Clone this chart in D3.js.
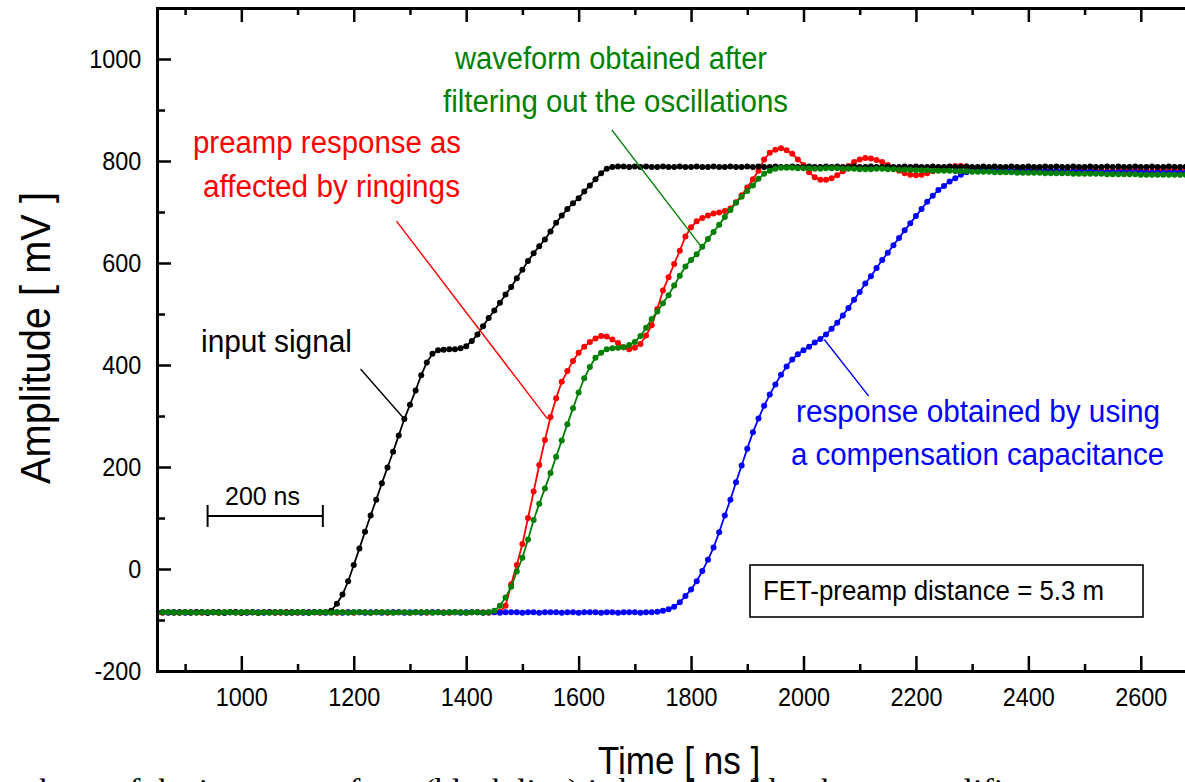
<!DOCTYPE html>
<html lang="en">
<head>
  <meta charset="UTF-8">
  <title>FET-preamp waveforms</title>
  <style>
    body { margin: 0; background: #fff; }
    svg { display: block; }
  </style>
</head>
<body>
  <svg id="svg" width="1185" height="782"></svg>
  <script src="https://d3js.org/d3.v7.min.js"></script>
  <script>
    // sampling grid (ns), one point every 10 ns
    const timeNs = [
      850, 860, 870, 880, 890, 900, 910, 920, 930, 940,
      950, 960, 970, 980, 990, 1000, 1010, 1020, 1030, 1040,
      1050, 1060, 1070, 1080, 1090, 1100, 1110, 1120, 1130, 1140,
      1150, 1160, 1170, 1180, 1190, 1200, 1210, 1220, 1230, 1240,
      1250, 1260, 1270, 1280, 1290, 1300, 1310, 1320, 1330, 1340,
      1350, 1360, 1370, 1380, 1390, 1400, 1410, 1420, 1430, 1440,
      1450, 1460, 1470, 1480, 1490, 1500, 1510, 1520, 1530, 1540,
      1550, 1560, 1570, 1580, 1590, 1600, 1610, 1620, 1630, 1640,
      1650, 1660, 1670, 1680, 1690, 1700, 1710, 1720, 1730, 1740,
      1750, 1760, 1770, 1780, 1790, 1800, 1810, 1820, 1830, 1840,
      1850, 1860, 1870, 1880, 1890, 1900, 1910, 1920, 1930, 1940,
      1950, 1960, 1970, 1980, 1990, 2000, 2010, 2020, 2030, 2040,
      2050, 2060, 2070, 2080, 2090, 2100, 2110, 2120, 2130, 2140,
      2150, 2160, 2170, 2180, 2190, 2200, 2210, 2220, 2230, 2240,
      2250, 2260, 2270, 2280, 2290, 2300, 2310, 2320, 2330, 2340,
      2350, 2360, 2370, 2380, 2390, 2400, 2410, 2420, 2430, 2440,
      2450, 2460, 2470, 2480, 2490, 2500, 2510, 2520, 2530, 2540,
      2550, 2560, 2570, 2580, 2590, 2600, 2610, 2620, 2630, 2640,
      2650, 2660, 2670, 2680
    ]

    // input signal (black), mV
    const inputSignal = [
      -86, -85, -85, -86, -85, -85, -86, -85, -85, -86,
      -85, -85, -86, -85, -85, -86, -85, -85, -86, -85,
      -85, -86, -85, -85, -86, -85, -85, -86, -85, -85,
      -85, -82, -68, -50, -24, 8, 40, 73, 105, 136,
      168, 199, 230, 262, 294, 322, 350, 380, 405, 422,
      429, 430, 431, 431, 433, 437, 447, 460, 476, 492,
      507, 522, 538, 553, 570, 587, 604, 619, 633, 646,
      662, 679, 693, 706, 717, 727, 740, 752, 764, 776,
      785, 788, 789, 789, 788, 789, 788, 789, 788, 788,
      789, 788, 788, 789, 788, 788, 789, 788, 788, 789,
      788, 788, 789, 788, 788, 789, 788, 789, 788, 788,
      789, 788, 788, 789, 788, 788, 789, 788, 788, 789,
      788, 789, 788, 788, 789, 788, 788, 789, 788, 788,
      789, 788, 788, 789, 788, 789, 788, 788, 789, 788,
      788, 789, 788, 788, 789, 788, 788, 789, 788, 789,
      788, 788, 789, 788, 788, 789, 788, 788, 789, 788,
      789, 788, 788, 789, 788, 788, 789, 788, 788, 789,
      788, 789, 788, 788, 789, 788, 788, 789, 788, 788,
      789, 788, 788, 789
    ]

    // preamp response with ringing (red), mV
    const preampResponse = [
      -85, -86, -85, -85, -86, -85, -85, -85, -86, -85,
      -85, -86, -85, -85, -85, -86, -85, -85, -86, -85,
      -85, -85, -86, -85, -85, -86, -85, -85, -85, -86,
      -85, -85, -86, -85, -85, -86, -85, -85, -86, -85,
      -85, -86, -85, -85, -85, -86, -85, -85, -86, -85,
      -85, -85, -86, -85, -85, -86, -85, -85, -85, -86,
      -85, -84, -72, -30, 8, 49, 100, 152, 204, 253,
      298, 335, 367, 388, 408, 424, 436, 445, 452, 457,
      456, 450, 443, 435, 431, 434, 441, 458, 478, 510,
      546, 572, 598, 624, 652, 670, 682, 688, 693, 697,
      699, 702, 707, 719, 733, 748, 764, 781, 803, 816,
      822, 825, 821, 814, 803, 792, 778, 768, 763, 763,
      766, 772, 780, 790, 798, 803, 806, 805, 802, 798,
      792, 787, 781, 776, 773, 772, 773, 776, 780, 783,
      786, 788, 790, 790, 789, 787, 785, 783, 781, 780,
      779, 779, 780, 781, 782, 783, 783, 782, 781, 780,
      779, 779, 780, 781, 782, 782, 782, 781, 780, 780,
      780, 781, 782, 782, 782, 781, 781, 780, 781, 782,
      782, 782, 781, 782
    ]

    // waveform after filtering out the oscillations (green), mV
    const filteredWaveform = [
      -86, -85, -85, -85, -86, -85, -85, -86, -85, -85,
      -85, -86, -85, -85, -86, -85, -85, -85, -86, -85,
      -86, -85, -85, -86, -85, -85, -85, -86, -85, -85,
      -85, -86, -85, -85, -86, -85, -85, -85, -86, -85,
      -85, -85, -86, -85, -85, -86, -85, -85, -85, -86,
      -85, -86, -85, -85, -85, -86, -85, -85, -86, -85,
      -82, -72, -56, -35, -5, 22, 58, 96, 128, 158,
      188, 220, 252, 284, 315, 346, 374, 396, 414, 424,
      431, 433, 434, 435, 439, 445, 457, 473, 490, 505,
      521, 537, 556, 575, 593, 606, 617, 632, 647, 661,
      675, 690, 704, 718, 730, 741, 752, 765, 775, 781,
      785, 787, 787, 787, 786, 786, 786, 785, 785, 786,
      786, 786, 785, 785, 785, 784, 784, 784, 785, 785,
      784, 784, 783, 783, 783, 782, 782, 782, 781, 781,
      781, 781, 780, 780, 780, 779, 779, 779, 779, 778,
      778, 778, 778, 777, 777, 777, 777, 777, 776, 776,
      776, 776, 776, 775, 775, 775, 775, 775, 775, 774,
      774, 774, 774, 774, 774, 773, 773, 773, 773, 773,
      773, 773, 773, 773
    ]

    // response with a compensation capacitance (blue), mV
    const compensatedResponse = [
      -85, -85, -86, -85, -85, -86, -85, -85, -85, -86,
      -85, -85, -86, -85, -85, -85, -86, -85, -85, -86,
      -85, -85, -85, -86, -85, -85, -86, -85, -85, -85,
      -86, -85, -85, -86, -85, -85, -85, -86, -85, -85,
      -86, -85, -85, -85, -86, -85, -85, -86, -85, -85,
      -85, -86, -85, -85, -86, -85, -85, -85, -86, -85,
      -85, -86, -85, -85, -85, -86, -85, -85, -86, -85,
      -85, -85, -86, -85, -85, -86, -85, -85, -85, -86,
      -85, -85, -86, -85, -85, -85, -86, -85, -85, -84,
      -82, -79, -74, -65, -53, -40, -24, -4, 18, 42,
      72, 105, 136, 170, 203, 236, 268, 295, 320, 342,
      362, 381, 397, 411, 421, 429, 436, 444, 451, 460,
      471, 483, 497, 512, 528, 543, 560, 574, 590, 606,
      620, 635, 649, 664, 678, 692, 706, 720, 732, 743,
      751, 760, 766, 773, 778, 782, 783, 783, 783, 782,
      782, 782, 781, 781, 781, 781, 780, 780, 780, 780,
      780, 780, 779, 779, 779, 779, 779, 779, 778, 778,
      778, 778, 778, 778, 778, 778, 777, 777, 777, 777,
      777, 777, 777, 777
    ]

    const xMajorTicks = [1000, 1200, 1400, 1600, 1800, 2000, 2200, 2400, 2600]
    const xMinorTicks = [900, 1100, 1300, 1500, 1700, 1900, 2100, 2300, 2500]
    const yMajorTicks = [-200, 0, 200, 400, 600, 800, 1000]
    const yMinorTicks = [-100, 100, 300, 500, 700, 900]

    const font = '"Liberation Sans", Arial, sans-serif'
    const svg = d3.select('#svg')

    svg.append('rect').attr('width', 1185).attr('height', 782).attr('fill', '#fff')

    const xScale = d3.scaleLinear()
      .domain([850, 2700])
      .range([157, 1197])

    const yScale = d3.scaleLinear()
      .domain([-200, 1100])
      .range([671, 8])

    svg.append('clipPath').attr('id', 'plot-clip')
      .append('rect')
      .attr('x', 157).attr('y', 8)
      .attr('width', 1040).attr('height', 663)

    // series, drawn so green ends on top
    const series = [
      { name: 'preamp', values: preampResponse, color: '#ff0000' },
      { name: 'compensated', values: compensatedResponse, color: '#0000ff' },
      { name: 'input', values: inputSignal, color: '#000000' },
      { name: 'filtered', values: filteredWaveform, color: '#008000' }
    ]

    const line = d3.line()
      .x(d => xScale(d[0]))
      .y(d => yScale(d[1]))

    const plot = svg.append('g').attr('clip-path', 'url(#plot-clip)')

    series.forEach(s => {
      const pts = timeNs.map((t, i) => [t, s.values[i]])
      const g = plot.append('g').attr('class', 'series-' + s.name)
      g.append('path')
        .datum(pts)
        .attr('d', line)
        .attr('fill', 'none')
        .attr('stroke', s.color)
        .attr('stroke-width', 1.8)
      g.selectAll('circle')
        .data(pts)
        .enter()
        .append('circle')
        .attr('cx', d => xScale(d[0]))
        .attr('cy', d => yScale(d[1]))
        .attr('r', 3)
        .attr('fill', s.color)
    })

    // axes
    const styleAxis = g => {
      g.select('.domain').attr('stroke-width', 3).attr('stroke-linecap', 'square')
      g.selectAll('.tick line').attr('stroke-width', 2.5)
      g.selectAll('.tick text')
        .attr('fill', '#000')
        .style('font-family', font)
        .style('font-size', '26px')
        .attr('transform', 'scale(0.9,1)')
    }

    svg.append('g')
      .attr('transform', `translate(0,${yScale(-200)})`)
      .call(d3.axisBottom(xScale).tickValues(xMajorTicks).tickSizeInner(-15).tickSizeOuter(0).tickPadding(17).tickFormat(d => String(d)))
      .call(styleAxis)
    svg.append('g')
      .attr('transform', `translate(0,${yScale(-200)})`)
      .call(d3.axisBottom(xScale).tickValues(xMinorTicks).tickSizeInner(-7).tickSizeOuter(0).tickFormat(''))
      .call(styleAxis)

    svg.append('g')
      .attr('transform', `translate(0,${yScale(1100)})`)
      .call(d3.axisTop(xScale).tickValues(xMajorTicks).tickSizeInner(-14).tickSizeOuter(0).tickFormat(''))
      .call(styleAxis)
    svg.append('g')
      .attr('transform', `translate(0,${yScale(1100)})`)
      .call(d3.axisTop(xScale).tickValues(xMinorTicks).tickSizeInner(-7).tickSizeOuter(0).tickFormat(''))
      .call(styleAxis)

    svg.append('g')
      .attr('transform', `translate(${xScale(850)},0)`)
      .call(d3.axisLeft(yScale).tickValues(yMajorTicks).tickSizeInner(-14).tickSizeOuter(0).tickPadding(17.5).tickFormat(d => String(d)))
      .call(styleAxis)
    svg.append('g')
      .attr('transform', `translate(${xScale(850)},0)`)
      .call(d3.axisLeft(yScale).tickValues(yMinorTicks).tickSizeInner(-8).tickSizeOuter(0).tickFormat(''))
      .call(styleAxis)

    // axis titles
    svg.append('text')
      .attr('transform', 'translate(679,774) scale(0.9,1)')
      .attr('text-anchor', 'middle')
      .style('font-family', font)
      .style('font-size', '39px')
      .text('Time [ ns ]')

    svg.append('text')
      .attr('transform', 'translate(50,338) rotate(-90)')
      .attr('text-anchor', 'middle')
      .attr('textLength', 292)
      .attr('lengthAdjust', 'spacingAndGlyphs')
      .style('font-family', font)
      .style('font-size', '42px')
      .text('Amplitude [ mV ]')

    // annotation texts
    const addText = (txt, x, y, width, size, color) => {
      svg.append('text')
        .attr('x', x).attr('y', y)
        .attr('textLength', width)
        .attr('lengthAdjust', 'spacingAndGlyphs')
        .attr('fill', color)
        .style('font-family', font)
        .style('font-size', size + 'px')
        .text(txt)
    }

    addText('waveform obtained after', 455, 69, 312, 31, '#008000')
    addText('filtering out the oscillations', 443, 112, 345, 31, '#008000')
    addText('preamp response as', 193, 153, 268, 31, '#ff0000')
    addText('affected by ringings', 203, 197, 257, 31, '#ff0000')
    addText('input signal', 201, 352, 151, 31, '#000000')
    addText('response obtained by using', 796, 422, 364, 31, '#0000ff')
    addText('a compensation capacitance', 791, 465, 373, 31, '#0000ff')
    addText('200 ns', 225, 505, 75, 25, '#000000')
    addText('FET-preamp distance = 5.3 m', 763, 600, 341, 27, '#000000')

    // pointer lines, ends in data units (ns, mV)
    const pointers = [
      { from: [1212, 392], to: [1290, 294], color: '#000000' },
      { from: [1276, 682], to: [1545, 294], color: '#ff0000' },
      { from: [1659, 861], to: [1816, 635], color: '#008000' },
      { from: [2116, 339], to: [2037, 450], color: '#0000ff' }
    ]
    svg.selectAll('line.pointer')
      .data(pointers)
      .enter()
      .append('line')
      .attr('class', 'pointer')
      .attr('x1', d => xScale(d.from[0]))
      .attr('y1', d => yScale(d.from[1]))
      .attr('x2', d => xScale(d.to[0]))
      .attr('y2', d => yScale(d.to[1]))
      .attr('stroke', d => d.color)
      .attr('stroke-width', 1.4)

    // 200 ns scale bar
    const barStart = 940
    const barEnd = 1145
    const barLevel = 104
    const bar = svg.append('g').attr('stroke', '#000').attr('stroke-width', 2)
    bar.append('line')
      .attr('x1', xScale(barStart)).attr('x2', xScale(barEnd))
      .attr('y1', yScale(barLevel)).attr('y2', yScale(barLevel))
    ;[barStart, barEnd].forEach(t => {
      bar.append('line')
        .attr('x1', xScale(t)).attr('x2', xScale(t))
        .attr('y1', yScale(barLevel) - 11).attr('y2', yScale(barLevel) + 11)
    })

    // info box
    svg.append('rect')
      .attr('x', 750).attr('y', 565)
      .attr('width', 393).attr('height', 52)
      .attr('fill', 'none')
      .attr('stroke', '#000')
      .attr('stroke-width', 1.6)

    // caption line of the page, cut off by the frame
    svg.append('text')
      .attr('x', 26).attr('y', 802)
      .style('font-family', '"Liberation Serif", "Times New Roman", serif')
      .style('font-size', '34px')
      .text('shape of the input waveform (black line) is broadened by the preamplifier')
  </script>
</body>
</html>
